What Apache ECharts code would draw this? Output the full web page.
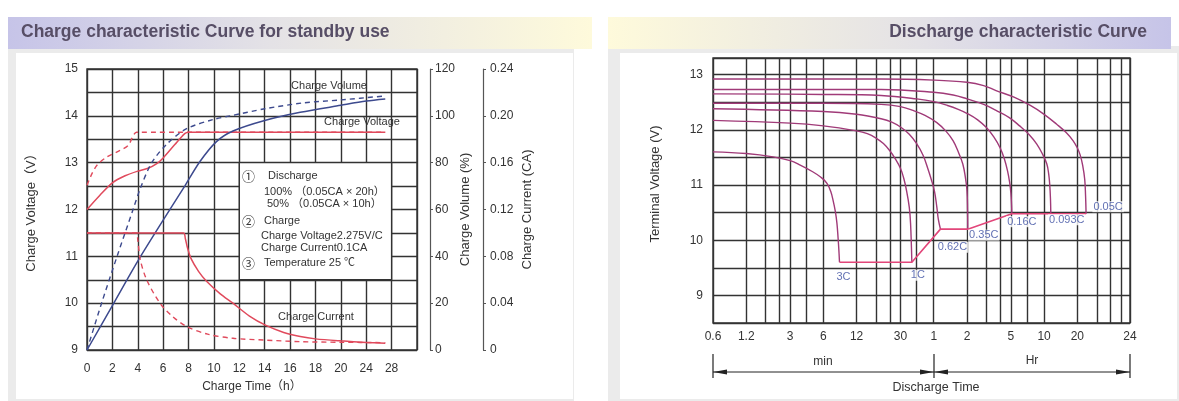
<!DOCTYPE html>
<html>
<head>
<meta charset="utf-8">
<script src="https://cdn.jsdelivr.net/npm/echarts@6/dist/echarts.min.js"></script>
<style>html,body{margin:0;padding:0;background:#fff}#c{width:1179px;height:401px}</style>
</head>
<body>
<div id="c"></div>
<script>
// ---------- DATA: charge chart (x in hours) ----------
const chargeTimeTicks = ['0','2','4','6','8','10','12','14','16','18','20','24','28',''];
const voltage100 = [[0,12.0],[1,12.3],[2,12.57],[3,12.72],[4,12.82],[4.8,12.88],[5.5,12.98],[6,13.1],[6.9,13.38],[7.7,13.62],[8,13.65],[27,13.65]];
const voltage50  = [[0,12.52],[0.4,12.77],[0.8,12.95],[1.55,13.12],[2.6,13.26],[3.25,13.37],[3.6,13.55],[3.9,13.65],[27,13.65]];
const volume100  = [[0,0],[2,19],[4,38],[6,55.5],[7.7,70],[8.9,80.5],[10.2,89],[11.5,93.5],[14,98],[16.8,101.5],[20,104.5],[24,106.3],[27,107.2]];
const volume50   = [[0,0],[1.15,20],[2.37,40],[3.63,60],[4.2,69],[5.1,80],[6.3,88],[7.85,94.5],[10,98.5],[11.3,100],[14,103],[17,105.5],[20,106.8],[27,108.5]];
const current100 = [[0,0.1],[7.6,0.1],[7.75,0.095],[7.9,0.088],[8.2,0.078],[8.8,0.067],[9.4,0.059],[10.5,0.048],[11.5,0.04],[12.8,0.029],[14.1,0.021],[15.5,0.015],[16.8,0.0115],[18,0.0095],[20,0.0078],[24,0.0065],[27,0.0058]];
const current50  = [[0,0.1],[3.9,0.1],[4.0,0.094],[4.2,0.077],[4.7,0.06],[5.75,0.04],[6.7,0.029],[7.85,0.02],[9.5,0.0135],[11.5,0.01],[14,0.0085],[16.8,0.0071],[20,0.0066],[27,0.0063]];

// ---------- DATA: discharge chart (x in minutes) ----------
const dischargeGridMinutes = [0.6,1.2,1.8,2.4,3,4.2,6,12,18,24,30,42,60,120,180,240,300,420,600,1200,1800,2400,3000,3600];
const dischargeTickMinutes = [0.6,1.2,3,6,12,30,60,120,300,600,1200,3600];
const dischargeTickLabels  = ['0.6','1.2','3','6','12','30','1','2','5','10','20','24'];
const rateLabels = ['3C','1C','0.62C','0.35C','0.16C','0.093C','0.05C'];
const curve3C    = [[0.6,11.6],[1.2,11.57],[2.1,11.51],[3,11.44],[3.7,11.36],[4.8,11.24],[5.7,11.14],[6.47,11.03],[7.0,10.88],[7.33,10.73],[7.7,10.52],[7.96,10.31],[8.15,10.05],[8.29,9.82],[8.4,9.6]];
const curve1C    = [[0.6,12.17],[3,12.12],[6,12.07],[12,11.98],[15,11.93],[18,11.85],[21,11.75],[24,11.62],[27,11.47],[30,11.3],[32,11.13],[34,10.9],[36,10.6],[37,10.3],[38,9.6]];
const curve062C  = [[0.6,12.38],[6,12.33],[12,12.28],[20,12.2],[25,12.14],[30,12.05],[36,11.92],[42,11.75],[48,11.54],[53,11.3],[57,11.1],[61,10.88],[64,10.6],[66,10.38],[69,10.2]];
const curve035C  = [[0.6,12.48],[6,12.48],[20,12.46],[30,12.42],[39,12.35],[50,12.26],[64,12.13],[77,11.98],[90,11.8],[100,11.6],[110,11.38],[116,11.14],[120,10.9],[121.5,10.55],[122,10.2]];
const curve016C  = [[0.6,12.65],[6,12.64],[20,12.62],[42,12.56],[60,12.51],[80,12.44],[100,12.37],[122,12.29],[150,12.18],[180,12.04],[210,11.87],[240,11.67],[262,11.47],[280,11.25],[292,11.05],[300,10.85],[304,10.65],[306,10.48]];
const curve0093C = [[0.6,12.73],[6,12.73],[20,12.73],[60,12.68],[90,12.63],[120,12.56],[170,12.46],[220,12.35],[290,12.22],[360,12.07],[440,11.91],[515,11.74],[580,11.56],[635,11.38],[660,11.2],[675,11.0],[685,10.75],[690,10.48]];
const curve005C  = [[0.6,12.92],[20,12.92],[60,12.9],[120,12.86],[170,12.8],[220,12.71],[320,12.59],[450,12.44],[600,12.28],[780,12.1],[950,11.95],[1100,11.8],[1200,11.67],[1270,11.55],[1340,11.36],[1400,11.1],[1425,10.8],[1440,10.48]];
const cutoffLine = [[8.4,9.6],[38,9.6],[69,10.2],[122,10.2],[306,10.48],[690,10.48],[1440,10.48]];

// ---------- helpers ----------
const FONT = "'Liberation Sans', Arial, 'Noto Sans CJK SC', sans-serif";
const CJK = "'Noto Sans CJK SC', sans-serif";
const hourToAxis = h => h <= 20 ? h / 2 : 10 + (h - 20) / 4;
const toLeft = arr => arr.map(([h, v]) => [hourToAxis(h), v]);
const lg = m => Math.log10(m);
const toRight = arr => arr.map(([m, v]) => [lg(m), v]);
const RED = '#e04a5c', BLUE = '#3d4a8e', GRID = '#333', CURVE = '#a03a78', CUT = '#e2467a', LBLUE = '#3b4ea0';
const dischargeCurves = [curve3C, curve1C, curve062C, curve035C, curve016C, curve0093C, curve005C];
const rateLabelOffsets = [[4,15],[6,13],[12,18],[16,6],[10,8],[16,6],[22,-7]];

const chart = echarts.init(document.getElementById('c'));
const lineBase = {type: 'line', symbol: 'none', smooth: 0.3, silent: true, animation: false};

const series = [
  Object.assign({}, lineBase, {xAxisIndex:0, yAxisIndex:0, data: toLeft(voltage100), lineStyle:{color:RED, width:1.5}}),
  Object.assign({}, lineBase, {xAxisIndex:0, yAxisIndex:0, data: toLeft(voltage50), lineStyle:{color:RED, width:1.4, type:[5,4]}}),
  Object.assign({}, lineBase, {xAxisIndex:0, yAxisIndex:1, data: toLeft(volume100), lineStyle:{color:BLUE, width:1.5}}),
  Object.assign({}, lineBase, {xAxisIndex:0, yAxisIndex:1, data: toLeft(volume50), lineStyle:{color:BLUE, width:1.4, type:[5,4]}}),
  Object.assign({}, lineBase, {xAxisIndex:0, yAxisIndex:2, data: toLeft(current100), lineStyle:{color:RED, width:1.5}}),
  Object.assign({}, lineBase, {xAxisIndex:0, yAxisIndex:2, data: toLeft(current50), lineStyle:{color:RED, width:1.4, type:[5,4]}}),
  {type:'line', xAxisIndex:0, yAxisIndex:0, data:[[6,13]], symbol:'none', silent:true, animation:false,
   markArea:{silent:true, itemStyle:{color:'#fff', borderColor:GRID, borderWidth:1.4},
     data:[[{coord:[6,13]},{coord:[12,10.5]}]]}}
];
dischargeCurves.forEach(c => series.push(Object.assign({}, lineBase, {
  xAxisIndex:1, yAxisIndex:3, data: toRight(c), smooth:0.4, lineStyle:{color:CURVE, width:1.4}})));
series.push({type:'line', xAxisIndex:1, yAxisIndex:3, data: toRight(cutoffLine), symbol:'none', silent:true, animation:false,
  lineStyle:{color:CUT, width:1.6}});
series.push({type:'scatter', xAxisIndex:1, yAxisIndex:3, symbolSize:1, itemStyle:{color:'rgba(0,0,0,0)'}, silent:true, animation:false, z:5,
  data: rateLabels.map((r, i) => {
    const c = dischargeCurves[i], p = c[c.length - 1];
    return {name:r, value:[lg(p[0]), p[1]], label:{offset: rateLabelOffsets[i]}};
  }),
  label:{show:true, position:'inside', formatter: p => p.name, color:LBLUE, fontSize:11, fontFamily:FONT, backgroundColor:'#fff', padding:[0,1]}});

const axisLbl = {color:'#333', fontSize:12, fontFamily:FONT};
const splitL = {show:true, lineStyle:{color:GRID, width:1.4}};
const nameStyle = {color:'#333', fontSize:13, fontFamily:FONT};

const txt = (x, y, text, extra) => Object.assign({type:'text', x, y, z:100,
  style: Object.assign({text, fill:'#333', font:`11px ${FONT}`, textVerticalAlign:'middle'}, extra || {})});

const option = {
  animation: false,
  textStyle: {fontFamily: FONT},
  grid: [
    {left:87, top:69, width:330, height:281, show:true, borderColor:GRID, borderWidth:1.4},
    {left:713, top:58, width:417, height:265, show:true, borderColor:GRID, borderWidth:1.4}
  ],
  xAxis: [
    {gridIndex:0, type:'value', min:0, max:13, interval:1,
     axisLine:{show:false}, axisTick:{show:false}, splitLine:splitL,
     axisLabel:Object.assign({margin:13, formatter: v => chargeTimeTicks[Math.round(v)] || ''}, axisLbl),
     name:'Charge Time（h）', nameLocation:'middle', nameGap:31, nameTextStyle:{color:'#333', fontSize:12, fontFamily:FONT}},
    {gridIndex:1, type:'value', min:lg(0.6), max:lg(3600),
     axisLine:{show:false},
     axisTick:{show:false, customValues: dischargeGridMinutes.map(lg)},
     splitLine:splitL,
     axisLabel:Object.assign({margin:8, customValues: dischargeTickMinutes.map(lg),
       formatter: v => { const i = dischargeTickMinutes.findIndex(m => Math.abs(lg(m) - v) < 1e-6); return i >= 0 ? dischargeTickLabels[i] : ''; }}, axisLbl)}
  ],
  yAxis: [
    {gridIndex:0, type:'value', min:9, max:15, interval:0.5,
     axisLine:{show:false}, axisTick:{show:false}, splitLine:splitL,
     axisLabel:Object.assign({margin:9, formatter: v => Number.isInteger(v) ? String(v) : ''}, axisLbl),
     name:'Charge Voltage（V）', nameLocation:'middle', nameGap:49, nameTextStyle:nameStyle},
    {gridIndex:0, type:'value', min:0, max:120, interval:20, position:'right', offset:13,
     axisLine:{show:true, lineStyle:{color:'#555', width:1.2}}, axisTick:{show:true, length:3, lineStyle:{color:'#555'}}, splitLine:{show:false},
     axisLabel:Object.assign({margin:5}, axisLbl),
     name:'Charge Volume (%)', nameLocation:'middle', nameGap:26, nameTextStyle:nameStyle},
    {gridIndex:0, type:'value', min:0, max:0.24, interval:0.04, position:'right', offset:66,
     axisLine:{show:true, lineStyle:{color:'#555', width:1.2}}, axisTick:{show:true, length:3, lineStyle:{color:'#555'}}, splitLine:{show:false},
     axisLabel:Object.assign({margin:7, formatter: v => v === 0 ? '0' : v.toFixed(2)}, axisLbl),
     name:'Charge Current (CA)', nameLocation:'middle', nameGap:38, nameTextStyle:nameStyle},
    {gridIndex:1, type:'value', min:8.5, max:13.3, interval:0.5,
     axisLine:{show:false}, axisTick:{show:false}, splitLine:splitL,
     axisLabel:Object.assign({margin:10, formatter: v => Number.isInteger(v) ? String(v) : ''}, axisLbl)}
  ],
  graphic: {elements: [
    // panels
    {type:'rect', z:-100, shape:{x:8, y:46, width:566, height:355}, style:{fill:'#ebebeb'}},
    {type:'rect', z:-99, shape:{x:16, y:53, width:557, height:346}, style:{fill:'#fff'}},
    {type:'rect', z:-100, shape:{x:608, y:46, width:571, height:355}, style:{fill:'#ebebeb'}},
    {type:'rect', z:-99, shape:{x:620, y:53, width:557, height:346}, style:{fill:'#fff'}},
    // banners
    {type:'rect', z:-98, shape:{x:8, y:17, width:584, height:32},
     style:{fill:new echarts.graphic.LinearGradient(0,0,1,0,[{offset:0,color:'#c6c4e8'},{offset:0.45,color:'#e4e2e6'},{offset:1,color:'#fefadb'}])}},
    {type:'rect', z:-98, shape:{x:608, y:17, width:563, height:32},
     style:{fill:new echarts.graphic.LinearGradient(0,0,1,0,[{offset:0,color:'#fefadb'},{offset:0.55,color:'#e4e2e6'},{offset:1,color:'#c6c4e8'}])}},
    txt(21, 32, 'Charge characteristic Curve for standby use', {fill:'#574e66', font:`bold 17.5px ${FONT}`}),
    txt(1147, 32, 'Discharge characteristic Curve', {fill:'#574e66', font:`bold 17.5px ${FONT}`, textAlign:'right'}),
    // axis title of discharge chart
    {type:'text', x:655, y:184, rotation:Math.PI/2, z:100,
     style:{text:'Terminal Voltage (V)', fill:'#333', font:`13px ${FONT}`, textAlign:'center', textVerticalAlign:'middle'}},
    // curve names
    txt(329, 86, 'Charge Volume', {textAlign:'center'}),
    txt(362, 122, 'Charge Voltage', {textAlign:'center'}),
    txt(316, 317, 'Charge Current', {textAlign:'center'}),
    // info box
    txt(242, 176, '①', {font:`13px ${CJK}`}), txt(268, 176, 'Discharge'),
    txt(264, 192, '100% （0.05CA × 20h）'),
    txt(267, 204, '50% （0.05CA × 10h）'),
    txt(242, 221, '②', {font:`13px ${CJK}`}), txt(264, 221, 'Charge'),
    txt(261, 236, 'Charge Voltage2.275V/C'),
    txt(261, 248, 'Charge Current0.1CA'),
    txt(242, 263, '③', {font:`13px ${CJK}`}), txt(264, 263, 'Temperature 25 ℃'),
    // discharge time dimension lines
    {type:'line', z:50, shape:{x1:713, y1:372, x2:1130, y2:372}, style:{stroke:'#222', lineWidth:1}},
    {type:'line', z:50, shape:{x1:713, y1:354, x2:713, y2:378}, style:{stroke:'#222', lineWidth:1.2}},
    {type:'line', z:50, shape:{x1:934, y1:354, x2:934, y2:378}, style:{stroke:'#222', lineWidth:1.2}},
    {type:'line', z:50, shape:{x1:1130, y1:354, x2:1130, y2:378}, style:{stroke:'#222', lineWidth:1.2}},
    {type:'polygon', z:50, shape:{points:[[713,372],[727,369.5],[727,374.5]]}, style:{fill:'#222'}},
    {type:'polygon', z:50, shape:{points:[[934,372],[920,369.5],[920,374.5]]}, style:{fill:'#222'}},
    {type:'polygon', z:50, shape:{points:[[934,372],[948,369.5],[948,374.5]]}, style:{fill:'#222'}},
    {type:'polygon', z:50, shape:{points:[[1130,372],[1116,369.5],[1116,374.5]]}, style:{fill:'#222'}},
    txt(823, 362, 'min', {textAlign:'center', font:`12px ${FONT}`}),
    txt(1032, 361, 'Hr', {textAlign:'center', font:`12px ${FONT}`}),
    txt(936, 388, 'Discharge Time', {textAlign:'center', font:`12.5px ${FONT}`})
  ]},
  series
};
chart.setOption(option);
</script>
</body>
</html>
